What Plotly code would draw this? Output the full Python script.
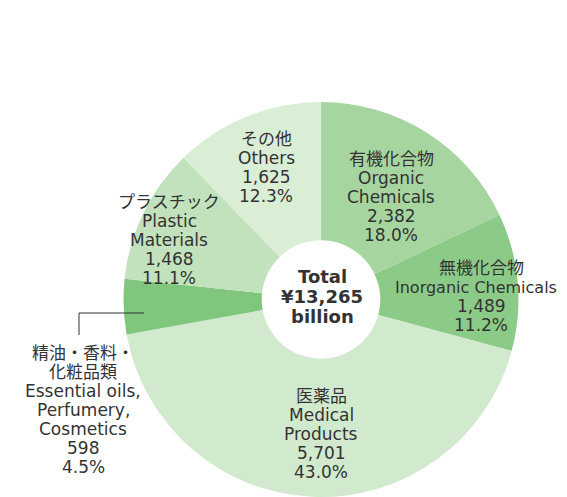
import plotly.graph_objects as go

OFF = 8  # page body margin pushes the plot 8px right and down
W, H = 567 - OFF, 497 - OFF

# slices, clockwise from 12 o'clock
names_ja = ["有機化合物", "無機化合物", "医薬品", "精油・香料・|化粧品類", "プラスチック", "その他"]
names_en = ["Organic|Chemicals", "Inorganic Chemicals", "Medical|Products",
            "Essential oils,|Perfumery,|Cosmetics", "Plastic|Materials", "Others"]
values = [2382, 1489, 5701, 598, 1468, 1625]
shares = ["18.0%", "11.2%", "43.0%", "4.5%", "11.1%", "12.3%"]
colors = ["#a6d5a0", "#8ccb87", "#d1e9cd", "#80c77d", "#c1e2bc", "#daeed6"]

# label x centre and first-line y in screen pixels
label_pos = [(391, 159), (481, 268), (321, 396), (83, 353), (169, 202), (266, 139)]
STEP = 19

FONT = "DejaVu Sans, Noto Sans CJK JP"
TXT = "#333333"


def px(x, y):
    return (x - OFF) / W, 1 - (y - OFF) / H


fig = go.Figure(go.Pie(
    values=values,
    labels=[n.replace("|", " ") for n in names_en],
    sort=False,
    direction="clockwise",
    rotation=0,
    hole=0.30,
    marker=dict(colors=colors, line=dict(width=0)),
    textinfo="none",
    hoverinfo="skip",
    domain=dict(x=[115 / W, 511 / W], y=[0, 1 - 94 / H]),
    showlegend=False,
))


def add_line(text, x, y, size=17, bold=False):
    ax, ay = px(x, y)
    fig.add_annotation(
        x=ax, y=ay, xref="paper", yref="paper",
        text=f"<b>{text}</b>" if bold else text,
        showarrow=False, xanchor="center", yanchor="middle",
        font=dict(family=FONT, size=size, color=TXT),
    )


for ja, en, v, s, (x, y) in zip(names_ja, names_en, values, shares, label_pos):
    lines = ja.split("|") + en.split("|") + [f"{v:,}", s]
    for i, ln in enumerate(lines):
        if len(ln) > 16:
            # long line runs to the right edge of the page
            add_line(ln, x - 5, y + i * STEP, size=16)
        else:
            add_line(ln, x, y + i * STEP)

for i, ln in enumerate(["Total", "¥13,265", "billion"]):
    add_line(ln, 322, 276 + i * 20, size=18, bold=True)

# leader line for the small slice
x0, y0 = px(79, 335)
x1, y1 = px(79, 313)
x2, y2 = px(144, 313)
fig.add_shape(type="path", xref="paper", yref="paper",
              path=f"M {x0} {y0} L {x1} {y1} L {x2} {y2}",
              line=dict(color=TXT, width=1))

fig.update_layout(
    width=W, height=H,
    margin=dict(l=0, r=0, t=0, b=0),
    paper_bgcolor="white",
    plot_bgcolor="white",
)

fig.write_html("out.html")
